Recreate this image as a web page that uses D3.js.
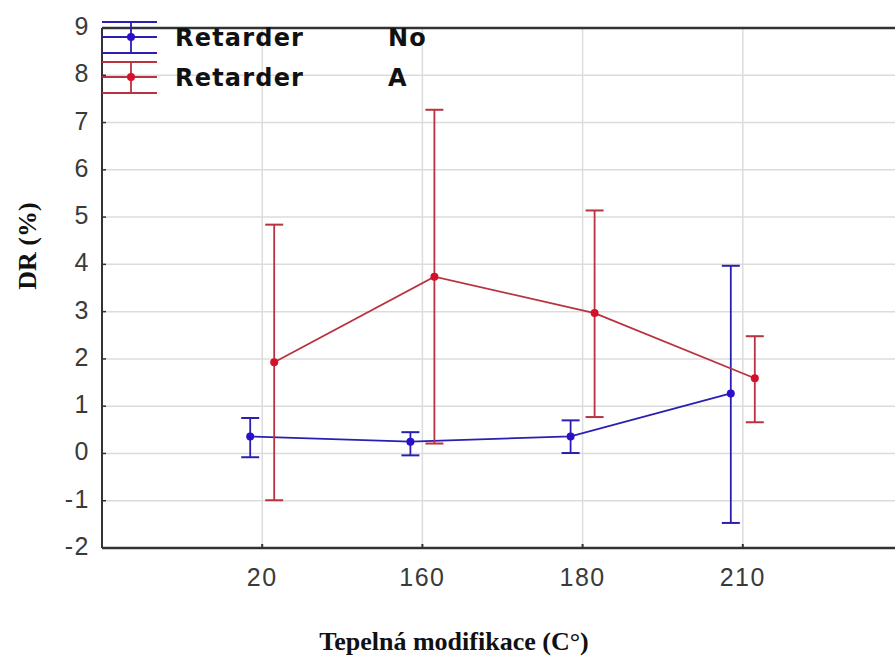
<!DOCTYPE html>
<html lang="cs">
  <head>
    <meta charset="UTF-8" />
    <title>DR (%) podle tepelné modifikace</title>
    <script src="https://d3js.org/d3.v7.min.js"></script>
    <style>
      body {
        margin: 0;
        background: #fff;
      }
      .tick-label {
        font: 25px Arial, "Liberation Sans", sans-serif;
        letter-spacing: 1.5px;
        fill: #3a3a3a;
      }
      .axis-title {
        font: bold 26px "Liberation Serif", "Times New Roman", serif;
        fill: #111;
      }
      .legend-text {
        font: bold 24px "DejaVu Sans", Verdana, sans-serif;
        letter-spacing: 1.2px;
        fill: #111;
      }
    </style>
  </head>
  <body>
    <svg width="895" height="657"></svg>

    <script>
      // kategorie (teplota) a hodnoty
      const categories = ["20", "160", "180", "210"];
      const yTicks = [-2, -1, 0, 1, 2, 3, 4, 5, 6, 7, 8, 9];

      const noMean = [0.36, 0.25, 0.36, 1.27];
      const noLow = [-0.08, -0.04, 0.01, -1.47];
      const noHigh = [0.75, 0.45, 0.7, 3.97];

      const aMean = [1.93, 3.74, 2.97, 1.59];
      const aLow = [-0.99, 0.21, 0.77, 0.66];
      const aHigh = [4.84, 7.27, 5.14, 2.48];

      const seriesNames = ["No", "A"];
      const seriesColors = ["#2a1fb0", "#b8323f"];
      const markerColors = ["#2a10c8", "#d4102a"];

      const svg = d3.select("svg");
      const plotLeft = 102,
        plotTop = 28,
        plotBottom = 548,
        plotRight = 903;

      // pozice kategorií 1..4 v rozsahu 0..5
      const x = d3.scaleLinear().domain([0, 5]).range([plotLeft, plotRight]);
      const y = d3.scaleLinear().domain([-2, 9]).range([plotBottom, plotTop]);
      const offsets = [-12, 12];

      // mřížka
      svg
        .selectAll(".hgrid")
        .data(yTicks.filter((d) => d > -2 && d < 9))
        .join("line")
        .attr("x1", plotLeft)
        .attr("x2", 895)
        .attr("y1", (d) => y(d))
        .attr("y2", (d) => y(d))
        .attr("stroke", "#dcdcdc")
        .attr("stroke-width", 1.5);

      svg
        .selectAll(".vgrid")
        .data(categories)
        .join("line")
        .attr("x1", (d, i) => x(i + 1))
        .attr("x2", (d, i) => x(i + 1))
        .attr("y1", plotTop)
        .attr("y2", plotBottom)
        .attr("stroke", "#dcdcdc")
        .attr("stroke-width", 1.5);

      // osy (rámeček)
      const axisColor = "#333";
      svg
        .append("line")
        .attr("x1", plotLeft)
        .attr("x2", plotLeft)
        .attr("y1", plotTop)
        .attr("y2", plotBottom)
        .attr("stroke", axisColor)
        .attr("stroke-width", 2);
      svg
        .append("line")
        .attr("x1", plotLeft)
        .attr("x2", 895)
        .attr("y1", plotBottom)
        .attr("y2", plotBottom)
        .attr("stroke", axisColor)
        .attr("stroke-width", 2.5);
      svg
        .append("line")
        .attr("x1", plotLeft)
        .attr("x2", 895)
        .attr("y1", plotTop)
        .attr("y2", plotTop)
        .attr("stroke", axisColor)
        .attr("stroke-width", 2.5);

      // značky a popisky osy Y
      svg
        .selectAll(".ytick")
        .data(yTicks)
        .join("line")
        .attr("x1", plotLeft)
        .attr("x2", plotLeft + 4)
        .attr("y1", (d) => y(d))
        .attr("y2", (d) => y(d))
        .attr("stroke", axisColor)
        .attr("stroke-width", 1.5);

      svg
        .selectAll(".ylabel")
        .data(yTicks)
        .join("text")
        .attr("class", "tick-label")
        .attr("x", 90)
        .attr("y", (d) => y(d) + 7)
        .attr("text-anchor", "end")
        .text((d) => d);

      // značky a popisky osy X
      svg
        .selectAll(".xtick")
        .data(categories)
        .join("line")
        .attr("x1", (d, i) => x(i + 1))
        .attr("x2", (d, i) => x(i + 1))
        .attr("y1", plotBottom)
        .attr("y2", plotBottom - 4)
        .attr("stroke", axisColor)
        .attr("stroke-width", 2);

      svg
        .selectAll(".xlabel")
        .data(categories)
        .join("text")
        .attr("class", "tick-label")
        .attr("x", (d, i) => x(i + 1))
        .attr("y", 586)
        .attr("text-anchor", "middle")
        .text((d) => d);

      // názvy os
      svg
        .append("text")
        .attr("class", "axis-title")
        .attr("x", 454)
        .attr("y", 650)
        .attr("text-anchor", "middle")
        .text("Tepelná modifikace (C°)");

      svg
        .append("text")
        .attr("class", "axis-title")
        .attr("transform", "translate(36,246) rotate(-90)")
        .attr("text-anchor", "middle")
        .text("DR (%)");

      // řady s chybovými úsečkami
      const series = [
        { mean: noMean, low: noLow, high: noHigh },
        { mean: aMean, low: aLow, high: aHigh },
      ];

      series.forEach((s, k) => {
        const px = (i) => x(i + 1) + offsets[k];
        const g = svg.append("g");

        g.append("path")
          .datum(s.mean)
          .attr("fill", "none")
          .attr("stroke", seriesColors[k])
          .attr("stroke-width", 1.8)
          .attr(
            "d",
            d3
              .line()
              .x((d, i) => px(i))
              .y((d) => y(d))
          );

        g.selectAll(".err")
          .data(s.mean)
          .join("line")
          .attr("x1", (d, i) => px(i))
          .attr("x2", (d, i) => px(i))
          .attr("y1", (d, i) => y(s.low[i]))
          .attr("y2", (d, i) => y(s.high[i]))
          .attr("stroke", seriesColors[k])
          .attr("stroke-width", 1.8);

        ["low", "high"].forEach((key) => {
          g.selectAll(".cap-" + key)
            .data(s[key])
            .join("line")
            .attr("class", "cap-" + key)
            .attr("x1", (d, i) => px(i) - 9)
            .attr("x2", (d, i) => px(i) + 9)
            .attr("y1", (d) => y(d))
            .attr("y2", (d) => y(d))
            .attr("stroke", seriesColors[k])
            .attr("stroke-width", 2);
        });

        g.selectAll(".pt")
          .data(s.mean)
          .join("circle")
          .attr("cx", (d, i) => px(i))
          .attr("cy", (d) => y(d))
          .attr("r", 4)
          .attr("fill", markerColors[k]);
      });

      // legenda
      const legendY = [37, 77];
      seriesNames.forEach((name, k) => {
        const cy = legendY[k];
        const g = svg.append("g");
        [-15, 0, 16].forEach((dy) => {
          g.append("line")
            .attr("x1", plotLeft)
            .attr("x2", 157)
            .attr("y1", cy + dy)
            .attr("y2", cy + dy)
            .attr("stroke", seriesColors[k])
            .attr("stroke-width", 1.8);
        });
        g.append("line")
          .attr("x1", 131)
          .attr("x2", 131)
          .attr("y1", cy - 15)
          .attr("y2", cy + 16)
          .attr("stroke", seriesColors[k])
          .attr("stroke-width", 1.8);
        g.append("circle")
          .attr("cx", 131)
          .attr("cy", cy)
          .attr("r", 4)
          .attr("fill", markerColors[k]);
        g.append("text")
          .attr("class", "legend-text")
          .attr("x", 175)
          .attr("y", cy + 9)
          .text("Retarder");
        g.append("text")
          .attr("class", "legend-text")
          .attr("x", 388)
          .attr("y", cy + 9)
          .text(name);
      });
    </script>
  </body>
</html>
